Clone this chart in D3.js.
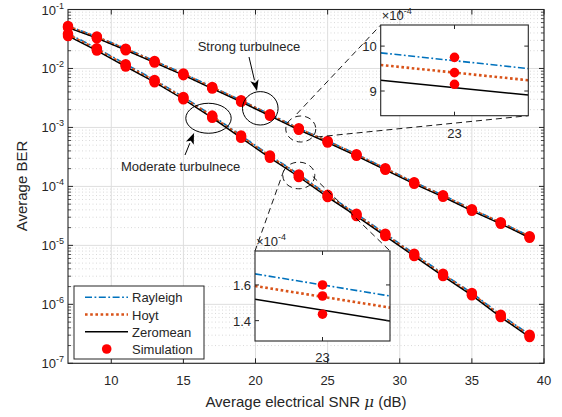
<!DOCTYPE html>
<html><head><meta charset="utf-8">
<script src="https://cdn.jsdelivr.net/npm/d3@7"></script>
<style>
body{margin:0;background:#fff}
svg{display:block}
text{font-family:"Liberation Sans",Arial,Helvetica,sans-serif;fill:#262626}
</style>
</head><body>
<svg id="c" width="562" height="417"></svg>
<script>
// ---------------- data ----------------
const snr = [7,9,11,13,15,17,19,21,23,25,27,29,31,33,35,37,39];
// Strong turbulence
const strongRayleigh = [0.05253,0.03475,0.02174,0.01341,0.008193,0.004862,0.002889,0.001676,9.675e-4,5.901e-4,3.516e-4,2.035e-4,1.179e-4,7.093e-5,4.112e-5,2.477e-5,1.429e-5];
const strongHoyt     = [0.0511,0.0338,0.02115,0.01304,0.00797,0.00473,0.00281,0.00163,9.41e-4,5.74e-4,3.42e-4,1.98e-4,1.147e-4,6.9e-5,4.0e-5,2.41e-5,1.39e-5];
const strongZeromean = [0.04928,0.03259,0.0204,0.01257,0.007686,0.004561,0.00271,0.001572,9.075e-4,5.535e-4,3.298e-4,1.909e-4,1.106e-4,6.654e-5,3.857e-5,2.324e-5,1.34e-5];
const strongSimRayleigh = [0.0525,0.0348,0.0217,0.0134,0.00820,0.00486,0.00289,0.00168,9.75e-4,5.90e-4,3.52e-4,2.04e-4,1.18e-4,7.09e-5,4.11e-5,2.48e-5,1.43e-5];
const strongSimHoyt     = [0.0511,0.0338,0.0212,0.0130,0.00797,0.00473,0.00281,0.00163,9.41e-4,5.74e-4,3.42e-4,1.98e-4,1.15e-4,6.90e-5,4.00e-5,2.41e-5,1.39e-5];
const strongSimZeromean = [0.0493,0.0326,0.0204,0.0126,0.00769,0.00456,0.00271,0.00157,9.15e-4,5.54e-4,3.30e-4,1.91e-4,1.11e-4,6.65e-5,3.86e-5,2.32e-5,1.34e-5];
// Moderate turbulence
const modRayleigh = [0.03905,0.02208,0.01183,0.00641,0.003299,0.001591,7.287e-4,3.341e-4,1.6e-4,7.204e-5,3.435e-5,1.576e-5,7.204e-6,3.299e-6,1.556e-6,6.661e-7,3.048e-7];
const modHoyt     = [0.0374,0.02115,0.01133,0.00614,0.00316,0.001524,6.98e-4,3.2e-4,1.533e-4,6.9e-5,3.29e-5,1.51e-5,6.9e-6,3.16e-6,1.49e-6,6.38e-7,2.92e-7];
const modZeromean = [0.03559,0.02012,0.01078,0.005842,0.003007,0.00145,6.641e-4,3.045e-4,1.459e-4,6.565e-5,3.13e-5,1.437e-5,6.565e-6,3.007e-6,1.418e-6,6.07e-7,2.778e-7];
const modSimRayleigh = [0.0390,0.0221,0.0118,0.00641,0.00330,0.00159,7.29e-4,3.34e-4,1.60e-4,7.20e-5,3.44e-5,1.58e-5,7.20e-6,3.30e-6,1.56e-6,6.66e-7,3.05e-7];
const modSimHoyt     = [0.0374,0.0212,0.0113,0.00614,0.00316,0.00152,6.98e-4,3.20e-4,1.538e-4,6.90e-5,3.29e-5,1.51e-5,6.90e-6,3.16e-6,1.49e-6,6.38e-7,2.92e-7];
const modSimZeromean = [0.0356,0.0201,0.0108,0.00584,0.00301,0.00145,6.64e-4,3.05e-4,1.436e-4,6.57e-5,3.13e-5,1.44e-5,6.57e-6,3.01e-6,1.42e-6,6.07e-7,2.78e-7];

const xTicks = [10,15,20,25,30,35,40];
const yTickExps = [-7,-6,-5,-4,-3,-2,-1];

// Inset 1 (strong, around 23 dB), values in units of 1e-4
const inset1X = [22.9, 23.1];
const inset1Rayleigh = [9.85, 9.50];
const inset1Hoyt = [9.58, 9.24];
const inset1Zeromean = [9.24, 8.91];
const inset1Sim = [9.75, 9.41, 9.15];
const inset1YTicks = [9, 10];
// Inset 2 (moderate, around 23 dB), values in units of 1e-4
const inset2X = [22.9, 23.1];
const inset2Rayleigh = [1.662, 1.538];
const inset2Hoyt = [1.594, 1.473];
const inset2Zeromean = [1.52, 1.398];
const inset2Sim = [1.60, 1.538, 1.436];
const inset2YTicks = [1.4, 1.6];

const seriesNames = ["Rayleigh","Hoyt","Zeromean","Simulation"];

// ---------------- styles ----------------
const styles = {
  Rayleigh: {stroke:"#0072BD", width:1.6, dash:"7,2.5,1.8,2.5"},
  Hoyt:     {stroke:"#D95319", width:2.6, dash:"2.6,2.6"},
  Zeromean: {stroke:"#000000", width:1.4, dash:null}
};
const dotColor = "#FF0000";

const svg = d3.select("#c");
const L = 68, R = 544, T = 9.5, B = 363.3;
const x = d3.scaleLinear([7,40],[L,R]);
const y = d3.scaleLog([1e-7,1e-1],[B,T]);

// grid
const g = svg.append("g");
// minor horizontal dotted grid
for (let e=-7; e<-1; e++) for (let k=2;k<=9;k++){
  const v = k*Math.pow(10,e);
  g.append("line").attr("x1",L).attr("x2",R).attr("y1",y(v)).attr("y2",y(v))
   .attr("stroke","#cfcfcf").attr("stroke-width",0.8).attr("stroke-dasharray","1,2.5");
}
// major grid
yTickExps.forEach(e=>{
  const v=Math.pow(10,e);
  g.append("line").attr("x1",L).attr("x2",R).attr("y1",y(v)).attr("y2",y(v))
   .attr("stroke","#dedede").attr("stroke-width",1);
});
xTicks.forEach(t=>{
  g.append("line").attr("x1",x(t)).attr("x2",x(t)).attr("y1",T).attr("y2",B)
   .attr("stroke","#dedede").attr("stroke-width",1);
});

// axes box & ticks
const ax = svg.append("g");
yTickExps.forEach(e=>{
  const v=Math.pow(10,e), yy=y(v);
  ax.append("line").attr("x1",L).attr("x2",L+5).attr("y1",yy).attr("y2",yy).attr("stroke","#262626");
  ax.append("line").attr("x1",R).attr("x2",R-5).attr("y1",yy).attr("y2",yy).attr("stroke","#262626");
  const t = ax.append("text").attr("x",L-4).attr("y",yy+5).attr("text-anchor","end").attr("font-size",13);
  t.append("tspan").text("10");
  t.append("tspan").attr("dy",-6).attr("font-size",9).text(String(e));
});
for (let e=-7; e<-1; e++) for (let k=2;k<=9;k++){
  const yy=y(k*Math.pow(10,e));
  ax.append("line").attr("x1",L).attr("x2",L+3).attr("y1",yy).attr("y2",yy).attr("stroke","#262626").attr("stroke-width",0.8);
  ax.append("line").attr("x1",R).attr("x2",R-3).attr("y1",yy).attr("y2",yy).attr("stroke","#262626").attr("stroke-width",0.8);
}
xTicks.forEach(t=>{
  ax.append("line").attr("x1",x(t)).attr("x2",x(t)).attr("y1",B).attr("y2",B-5).attr("stroke","#262626");
  ax.append("line").attr("x1",x(t)).attr("x2",x(t)).attr("y1",T).attr("y2",T+5).attr("stroke","#262626");
  ax.append("text").attr("x",x(t)).attr("y",B+22).attr("text-anchor","middle").attr("font-size",13).text(t);
});
ax.append("rect").attr("x",L).attr("y",T).attr("width",R-L).attr("height",B-T)
  .attr("fill","none").attr("stroke","#262626").attr("stroke-width",1.1);

// axis labels
const xl = svg.append("text").attr("x",(L+R)/2).attr("y",407).attr("text-anchor","middle").attr("font-size",15);
xl.append("tspan").text("Average electrical SNR ");
xl.append("tspan").attr("font-style","italic").attr("font-family","'DejaVu Serif',serif").text("μ");
xl.append("tspan").text(" (dB)");
svg.append("text").attr("transform","translate(27,186) rotate(-90)").attr("text-anchor","middle")
  .attr("font-size",15).text("Average BER");

// lines
const line = d3.line().x((d,i)=>x(snr[i])).y(d=>y(d));
function drawLine(parent, gen, data, st){
  const p = parent.append("path").attr("d",gen(data)).attr("fill","none")
   .attr("stroke",st.stroke).attr("stroke-width",st.width);
  if (st.dash) p.attr("stroke-dasharray",st.dash);
}
const lg = svg.append("g");
[[strongRayleigh,"Rayleigh"],[modRayleigh,"Rayleigh"],[strongHoyt,"Hoyt"],[modHoyt,"Hoyt"],[strongZeromean,"Zeromean"],[modZeromean,"Zeromean"]]
 .forEach(([d,n])=>drawLine(lg,line,d,styles[n]));
// simulation points
[strongSimRayleigh,strongSimHoyt,strongSimZeromean,modSimRayleigh,modSimHoyt,modSimZeromean].forEach(arr=>{
  lg.selectAll(null).data(arr).enter().append("circle")
    .attr("cx",(d,i)=>x(snr[i])).attr("cy",d=>y(d)).attr("r",5.2).attr("fill",dotColor);
});

// annotations
const an = svg.append("g");
function arrow(x1,y1,x2,y2){
  const ang=Math.atan2(y2-y1,x2-x1), len=11, w=4.2;
  const bx=x2-len*Math.cos(ang), by=y2-len*Math.sin(ang);
  an.append("line").attr("x1",x1).attr("y1",y1).attr("x2",bx).attr("y2",by).attr("stroke","#000").attr("stroke-width",1);
  const px=-Math.sin(ang), py=Math.cos(ang);
  const bx2=x2-len*0.75*Math.cos(ang), by2=y2-len*0.75*Math.sin(ang);
  an.append("path").attr("d",`M${x2},${y2}L${bx+px*w},${by+py*w}L${bx2},${by2}L${bx-px*w},${by-py*w}Z`).attr("fill","#000");
}
// ellipses (in data coords)
an.append("ellipse").attr("cx",x(20.33)).attr("cy",y(2.11e-3)).attr("rx",17.8).attr("ry",16.7)
  .attr("fill","none").attr("stroke","#000").attr("stroke-width",1);
an.append("ellipse").attr("cx",x(16.74)).attr("cy",y(1.43e-3)).attr("rx",22.7).attr("ry",15)
  .attr("fill","none").attr("stroke","#000").attr("stroke-width",1);
an.append("text").attr("x",249).attr("y",50.5).attr("text-anchor","middle").attr("font-size",13).attr("fill","#000").text("Strong turbulnece");
an.append("text").attr("x",121).attr("y",171).attr("text-anchor","start").attr("font-size",13).attr("fill","#000").text("Moderate turbulnece");
arrow(249,57,257,91);
arrow(185,155,194,133);

// dashed circles + connectors
const c1x = x(23)+2, c1y = y(strongHoyt[8]);
const c2x = x(23), c2y = y(modHoyt[8]);
const ins1 = {l:380.7,r:528.3,t:25,b:115.7};
const ins2 = {l:255,r:390,t:251,b:341};
const dashSt = sel => sel.attr("fill","none").attr("stroke","#000").attr("stroke-width",0.9).attr("stroke-dasharray","6,4");
dashSt(an.append("ellipse").attr("cx",c1x).attr("cy",c1y).attr("rx",15).attr("ry",13));
dashSt(an.append("ellipse").attr("cx",c2x).attr("cy",c2y).attr("rx",16).attr("ry",13.3));
dashSt(an.append("line").attr("x1",c1x-4).attr("y1",c1y-15).attr("x2",ins1.l).attr("y2",ins1.t));
dashSt(an.append("line").attr("x1",c1x+16).attr("y1",c1y+8).attr("x2",ins1.r).attr("y2",ins1.b));
dashSt(an.append("line").attr("x1",c2x-15).attr("y1",c2y-5).attr("x2",ins2.l).attr("y2",ins2.t));
dashSt(an.append("line").attr("x1",c2x+14).attr("y1",c2y+1).attr("x2",ins2.r).attr("y2",ins2.t));

// insets
function inset(box, xs, ydom, ray, hoyt, zero, sims, yticks, id, labelBelow){
  const gI = svg.append("g");
  const ix = d3.scaleLinear([xs[0],xs[1]],[box.l,box.r]);
  const iy = d3.scaleLinear(ydom,[box.b,box.t]);
  gI.append("rect").attr("x",box.l).attr("y",box.t).attr("width",box.r-box.l).attr("height",box.b-box.t).attr("fill","#fff");
  gI.append("clipPath").attr("id",id).append("rect").attr("x",box.l).attr("y",box.t).attr("width",box.r-box.l).attr("height",box.b-box.t);
  const cg = gI.append("g").attr("clip-path",`url(#${id})`);
  const il = d3.line().x((d,i)=>ix(xs[i])).y(d=>iy(d));
  drawLine(cg,il,ray,styles.Rayleigh);
  drawLine(cg,il,hoyt,styles.Hoyt);
  drawLine(cg,il,zero,styles.Zeromean);
  sims.forEach(v=>gI.append("circle").attr("cx",ix(23)).attr("cy",iy(v)).attr("r",4.8).attr("fill",dotColor));
  yticks.forEach(t=>{
    gI.append("line").attr("x1",box.l).attr("x2",box.l+4).attr("y1",iy(t)).attr("y2",iy(t)).attr("stroke","#262626");
    gI.append("line").attr("x1",box.r).attr("x2",box.r-4).attr("y1",iy(t)).attr("y2",iy(t)).attr("stroke","#262626");
    gI.append("text").attr("x",box.l-4).attr("y",iy(t)+5).attr("text-anchor","end").attr("font-size",13).text(t);
  });
  gI.append("line").attr("x1",ix(23)).attr("x2",ix(23)).attr("y1",box.b).attr("y2",box.b-4).attr("stroke","#262626");
  gI.append("line").attr("x1",ix(23)).attr("x2",ix(23)).attr("y1",box.t).attr("y2",box.t+4).attr("stroke","#262626");
  gI.append("text").attr("x",ix(23)).attr("y",box.b+labelBelow).attr("text-anchor","middle").attr("font-size",13).text("23");
  gI.append("rect").attr("x",box.l).attr("y",box.t).attr("width",box.r-box.l).attr("height",box.b-box.t)
    .attr("fill","none").attr("stroke","#262626").attr("stroke-width",1.1);
  const ex = gI.append("text").attr("x",box.l+1).attr("y",box.t-5).attr("font-size",13);
  ex.append("tspan").text("×10");
  ex.append("tspan").attr("dy",-6).attr("font-size",9).text("-4");
}
inset(ins1, inset1X, [8.45,10.47], inset1Rayleigh, inset1Hoyt, inset1Zeromean, inset1Sim, inset1YTicks, "cl1", 22);
inset(ins2, inset2X, [1.286,1.79], inset2Rayleigh, inset2Hoyt, inset2Zeromean, inset2Sim, inset2YTicks, "cl2", 21);

// legend
const leg = svg.append("g");
leg.append("rect").attr("x",74).attr("y",286).attr("width",130).attr("height",73)
  .attr("fill","#fff").attr("stroke","#262626").attr("stroke-width",1);
const rowsY = [297.3,314.5,331.7,349];
seriesNames.forEach((n,i)=>{
  const yy = rowsY[i];
  if (n==="Simulation") leg.append("circle").attr("cx",106.7).attr("cy",yy).attr("r",4.8).attr("fill",dotColor);
  else {
    const st=styles[n];
    const p=leg.append("line").attr("x1",85).attr("x2",128).attr("y1",yy).attr("y2",yy)
      .attr("stroke",st.stroke).attr("stroke-width",st.width);
    if (st.dash) p.attr("stroke-dasharray",st.dash);
  }
  leg.append("text").attr("x",132).attr("y",yy+5).attr("font-size",13).attr("fill","#000").text(n);
});
</script>
</body></html>
